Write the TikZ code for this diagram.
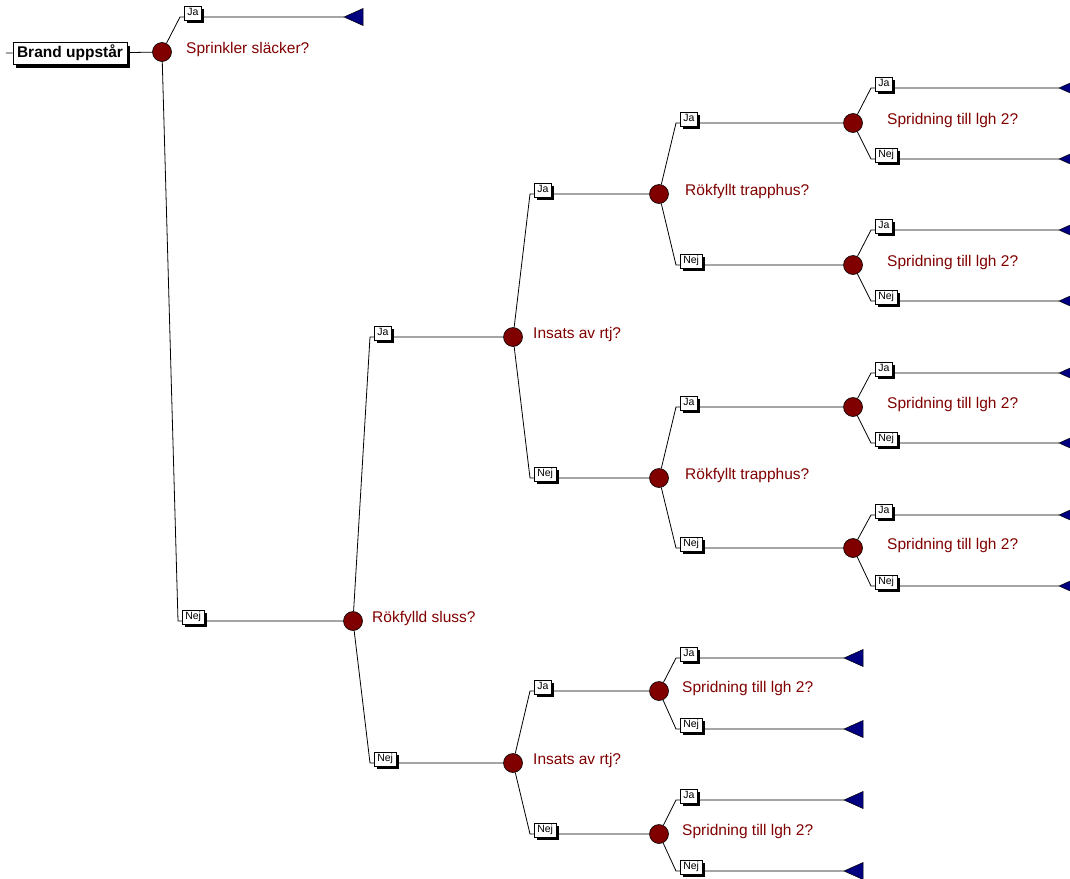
\documentclass[tikz,border=0pt]{standalone}
\usepackage{fontspec}
\setmainfont{Liberation Sans}
\usetikzlibrary{shadows}
\definecolor{dkred}{RGB}{128,0,0}
\definecolor{navyblue}{RGB}{0,0,128}

% branch: parent node, corner name, corner x, corner y, branch label, target
\newcommand\treebranch[6]{%
  \coordinate (#2) at (#3,#4);
  \draw[wire] (#1) -- (#2) -- (#6);
  \node[branchlbl] (#2-lbl) at ([xshift=4pt,yshift=-3pt]#2) {#5};
}
% terminal triangle with its tip at the named coordinate
\newcommand\treeend[1]{%
  \draw[terminal] (#1) -- ++(19,-8.5) -- ++(0,17) -- cycle;
}

\begin{document}
\begin{tikzpicture}[x=1pt,y=-1pt,
  wire/.style={line width=0.8pt},
  chance/.style={circle,draw=black,fill=dkred,line width=0.6pt,minimum size=19pt,inner sep=0pt},
  question/.style={anchor=base west,text=dkred,font=\fontsize{15.5}{18}\selectfont,inner sep=0pt},
  branchlbl/.style={draw,fill=white,line width=0.5pt,font=\fontsize{10.5}{12}\selectfont,
    inner xsep=3pt,inner ysep=0pt,minimum height=14pt,text height=8pt,text depth=2pt,
    anchor=south west,drop shadow={shadow xshift=3pt,shadow yshift=-3pt,opacity=1,fill=black}},
  rootbox/.style={draw,fill=white,line width=0.6pt,font=\fontsize{15.5}{18}\selectfont\bfseries,
    inner xsep=4pt,inner ysep=0pt,minimum height=22pt,text height=11pt,text depth=3pt,
    drop shadow={shadow xshift=3pt,shadow yshift=-3pt,opacity=1,fill=black}},
  terminal/.style={draw=black,fill=navyblue,line width=0.5pt}]
\clip (0,0) rectangle (1070,878);

% root
\coordinate (r0) at (6,53);
\node[rootbox] (root) at (70,53.5) {Brand uppstår};

% chance nodes
\node[chance] (n1) at (162,52) {};
\node[chance] (n2) at (353,621) {};
\node[chance] (n3) at (513,337) {};
\node[chance] (n4) at (513,763) {};
\node[chance] (n5) at (659,194) {};
\node[chance] (n6) at (659,478) {};
\node[chance] (n7) at (659,691) {};
\node[chance] (n8) at (659,834) {};
\node[chance] (n9) at (853,123) {};
\node[chance] (n10) at (853,265) {};
\node[chance] (n11) at (853,407) {};
\node[chance] (n12) at (853,548) {};

\draw[wire] (r0) -- (root);
\draw[wire] (root) -- (n1);

% terminal tips
\coordinate (t1) at (344,17);
\coordinate (t7a) at (844,658);
\coordinate (t7b) at (844,729);
\coordinate (t8a) at (844,800);
\coordinate (t8b) at (844,871);
\coordinate (t9a) at (1059,88);
\coordinate (t9b) at (1059,159);
\coordinate (t10a) at (1059,230);
\coordinate (t10b) at (1059,301);
\coordinate (t11a) at (1059,373);
\coordinate (t11b) at (1059,443);
\coordinate (t12a) at (1059,515);
\coordinate (t12b) at (1059,586);

% branches
\treebranch{n1}{c1a}{180}{17}{Ja}{t1}
\treebranch{n1}{c1b}{178}{621}{Nej}{n2}
\treebranch{n2}{c2a}{370}{337}{Ja}{n3}
\treebranch{n2}{c2b}{370}{763}{Nej}{n4}
\treebranch{n3}{c3a}{530}{194}{Ja}{n5}
\treebranch{n3}{c3b}{530}{478}{Nej}{n6}
\treebranch{n4}{c4a}{530}{691}{Ja}{n7}
\treebranch{n4}{c4b}{530}{834}{Nej}{n8}
\treebranch{n5}{c5a}{676}{123}{Ja}{n9}
\treebranch{n5}{c5b}{676}{265}{Nej}{n10}
\treebranch{n6}{c6a}{676}{407}{Ja}{n11}
\treebranch{n6}{c6b}{676}{548}{Nej}{n12}
\treebranch{n7}{c7a}{676}{658}{Ja}{t7a}
\treebranch{n7}{c7b}{676}{729}{Nej}{t7b}
\treebranch{n8}{c8a}{676}{800}{Ja}{t8a}
\treebranch{n8}{c8b}{676}{871}{Nej}{t8b}
\treebranch{n9}{c9a}{871}{88}{Ja}{t9a}
\treebranch{n9}{c9b}{871}{159}{Nej}{t9b}
\treebranch{n10}{c10a}{871}{230}{Ja}{t10a}
\treebranch{n10}{c10b}{871}{301}{Nej}{t10b}
\treebranch{n11}{c11a}{871}{373}{Ja}{t11a}
\treebranch{n11}{c11b}{871}{443}{Nej}{t11b}
\treebranch{n12}{c12a}{871}{515}{Ja}{t12a}
\treebranch{n12}{c12b}{871}{586}{Nej}{t12b}

% end points
\treeend{t1}
\treeend{t7a}\treeend{t7b}\treeend{t8a}\treeend{t8b}
\treeend{t9a}\treeend{t9b}\treeend{t10a}\treeend{t10b}
\treeend{t11a}\treeend{t11b}\treeend{t12a}\treeend{t12b}

% questions
\node[question] (q1) at (186,53) {Sprinkler släcker?};
\node[question] (q2) at (372,622) {Rökfylld sluss?};
\node[question] (q3) at (533,338) {Insats av rtj?};
\node[question] (q4) at (533,764) {Insats av rtj?};
\node[question] (q5) at (685,195) {Rökfyllt trapphus?};
\node[question] (q6) at (685,479) {Rökfyllt trapphus?};
\node[question] (q7) at (682,692) {Spridning till lgh 2?};
\node[question] (q8) at (682,835) {Spridning till lgh 2?};
\node[question] (q9) at (887,124) {Spridning till lgh 2?};
\node[question] (q10) at (887,266) {Spridning till lgh 2?};
\node[question] (q11) at (887,408) {Spridning till lgh 2?};
\node[question] (q12) at (887,549) {Spridning till lgh 2?};
\end{tikzpicture}
\end{document}
